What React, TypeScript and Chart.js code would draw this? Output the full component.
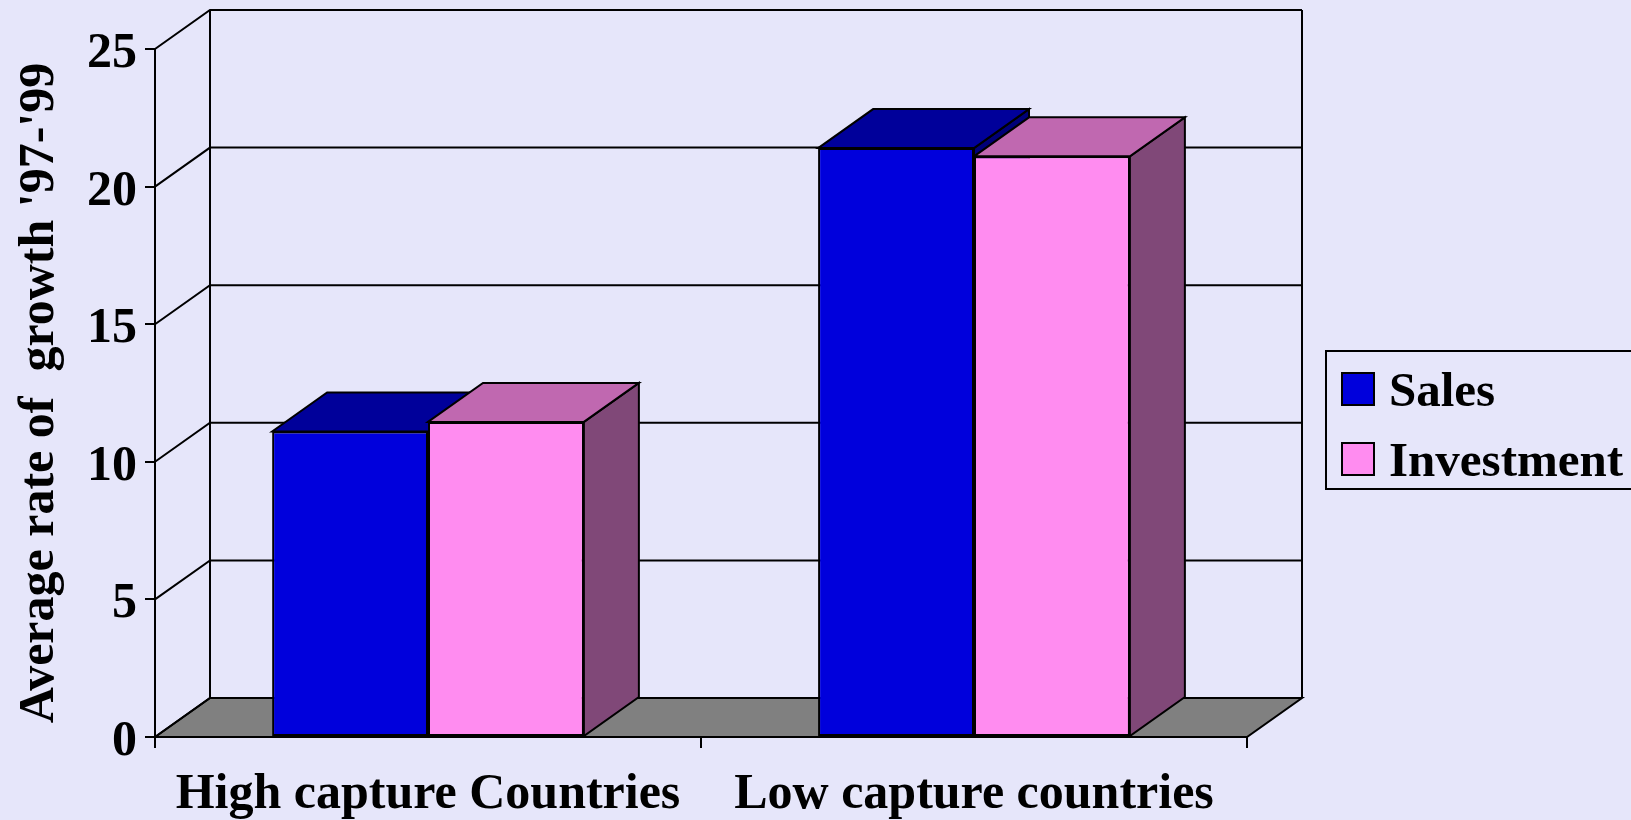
import React, { useEffect, useRef } from "react";
import { Chart, registerables } from "chart.js";

Chart.register(...registerables);

const categories = ["High capture Countries", "Low capture countries"];
const seriesNames = ["Sales", "Investment"];
const salesValues = [11.1, 21.4];
const investmentValues = [11.45, 21.1];
const yMin = 0;
const yMax = 25;
const yStep = 5;
const yTitle = "Average rate of  growth '97-'99";

const BG = "#E6E6FA";
const FONT = "'Liberation Serif', 'Times New Roman', serif";
const DX = 55;
const DY = -39;
const frontColors = ["#0000DC", "#FF8CF0"];
const topColors = ["#00009A", "#C068B0"];
const sideColors = ["#000078", "#804878"];

function poly(ctx: CanvasRenderingContext2D, pts: number[][], fill: string) {
  ctx.beginPath();
  ctx.moveTo(pts[0][0], pts[0][1]);
  for (let i = 1; i < pts.length; i++) ctx.lineTo(pts[i][0], pts[i][1]);
  ctx.closePath();
  ctx.fillStyle = fill;
  ctx.fill();
  ctx.stroke();
}

const threeD = {
  id: "threeD",
  beforeDatasetsDraw(chart: any) {
    const ctx: CanvasRenderingContext2D = chart.ctx;
    const area = chart.chartArea;
    const ys = chart.scales.y;
    const left = area.left;
    const right = area.right;
    const bottom = area.bottom;
    ctx.save();
    ctx.strokeStyle = "#000";
    ctx.lineWidth = 2;
    ctx.lineJoin = "miter";
    poly(ctx, [[left, bottom], [left + DX, bottom + DY], [right + DX, bottom + DY], [right, bottom]], "#808080");
    ys.ticks.forEach((t: any) => {
      const y = ys.getPixelForValue(t.value);
      ctx.beginPath();
      ctx.moveTo(left, y);
      ctx.lineTo(left + DX, y + DY);
      ctx.lineTo(right + DX, y + DY);
      ctx.stroke();
    });
    ctx.beginPath();
    ctx.moveTo(left + DX, ys.top + DY);
    ctx.lineTo(left + DX, bottom + DY);
    ctx.moveTo(right + DX, ys.top + DY);
    ctx.lineTo(right + DX, bottom + DY);
    ctx.stroke();
    const metas = chart.data.datasets.map((_: any, i: number) => chart.getDatasetMeta(i));
    for (let c = 0; c < categories.length; c++) {
      metas.forEach((meta: any, d: number) => {
        const el = meta.data[c];
        const p = el.getProps(["x", "y", "base", "width"], true);
        const l = p.x - p.width / 2;
        const r = p.x + p.width / 2;
        poly(ctx, [[r, p.y], [r + DX, p.y + DY], [r + DX, p.base + DY], [r, p.base]], sideColors[d]);
        poly(ctx, [[l, p.y], [l + DX, p.y + DY], [r + DX, p.y + DY], [r, p.y]], topColors[d]);
      });
    }
    ctx.restore();
  },
  afterDraw(chart: any) {
    const ctx: CanvasRenderingContext2D = chart.ctx;
    ctx.save();
    ctx.strokeStyle = "#000";
    ctx.lineWidth = 2;
    ctx.fillStyle = BG;
    ctx.fillRect(1326, 351, 320, 138);
    ctx.strokeRect(1326, 351, 320, 138);
    ctx.font = `bold 49px ${FONT}`;
    ctx.textBaseline = "alphabetic";
    chart.data.datasets.forEach((ds: any, i: number) => {
      const y0 = 373 + i * 70;
      ctx.fillStyle = frontColors[i];
      ctx.fillRect(1342, y0, 32, 32);
      ctx.strokeRect(1342, y0, 32, 32);
      ctx.fillStyle = "#000";
      ctx.fillText(ds.label, 1389, y0 + 33);
    });
    ctx.restore();
  },
};

export default function App() {
  const ref = useRef<HTMLCanvasElement>(null);
  useEffect(() => {
    document.body.style.margin = "0";
    document.body.style.background = BG;
    const tickFont = { family: FONT, size: 50, weight: "bold" as const };
    const xFont = { family: FONT, size: 50, weight: "bold" as const };
    const chart = new Chart(ref.current!, {
      type: "bar",
      data: {
        labels: categories,
        datasets: [
          { label: seriesNames[0], data: salesValues, backgroundColor: frontColors[0], borderColor: "#000", borderWidth: 2, borderSkipped: false },
          { label: seriesNames[1], data: investmentValues, backgroundColor: frontColors[1], borderColor: "#000", borderWidth: 2, borderSkipped: false },
        ],
      },
      options: {
        animation: false,
        responsive: true,
        maintainAspectRatio: false,
        layout: { padding: { left: 0, top: 49, right: 384, bottom: 0 } },
        datasets: { bar: { categoryPercentage: 0.571, barPercentage: 1 } },
        plugins: { legend: { display: false }, tooltip: { enabled: false } },
        scales: {
          x: {
            offset: true,
            grid: { offset: true, drawOnChartArea: false, drawTicks: true, tickLength: 11, color: "#000", lineWidth: 2 },
            border: { display: true, color: "#000", width: 2 },
            ticks: { color: "#000", font: xFont, padding: 17, maxRotation: 0, autoSkip: false },
            afterFit: (s: any) => { s.height = 83; },
          },
          y: {
            min: yMin,
            max: yMax,
            ticks: { stepSize: yStep, color: "#000", font: tickFont, padding: 8, labelOffset: 5 },
            grid: { drawOnChartArea: false, drawTicks: true, tickLength: 10, color: "#000", lineWidth: 2 },
            border: { display: true, color: "#000", width: 2 },
            title: { display: true, text: yTitle, color: "#000", font: { family: FONT, size: 50, weight: "bold" }, padding: { top: 10, bottom: 0 } },
            afterFit: (s: any) => { s.width = 155; },
          },
        },
      },
      plugins: [threeD],
    });
    return () => chart.destroy();
  }, []);
  return (
    <div style={{ position: "fixed", left: 0, top: 0, width: 1631, height: 820, background: BG }}>
      <canvas ref={ref} />
    </div>
  );
}
